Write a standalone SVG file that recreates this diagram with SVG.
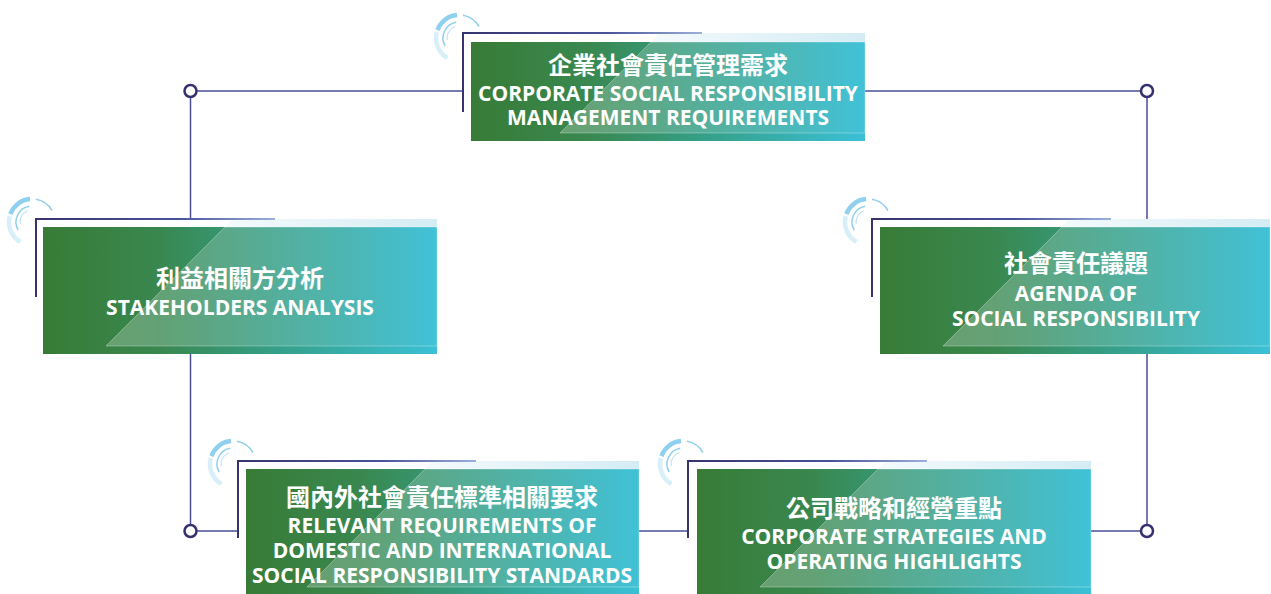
<svg xmlns="http://www.w3.org/2000/svg" xmlns:xlink="http://www.w3.org/1999/xlink" width="1271" height="594" viewBox="0 0 1271 594">
<defs>
<linearGradient id="boxg" x1="0" y1="0" x2="1" y2="0">
<stop offset="0" stop-color="#387b36"/>
<stop offset="0.3" stop-color="#398850"/>
<stop offset="0.6" stop-color="#35a08a"/>
<stop offset="1" stop-color="#3bc0d7"/>
</linearGradient>
<linearGradient id="ovg" x1="0" y1="0" x2="1" y2="0">
<stop offset="0" stop-color="#ffffff" stop-opacity="0.24"/>
<stop offset="0.6" stop-color="#ffffff" stop-opacity="0.14"/>
<stop offset="1" stop-color="#ffffff" stop-opacity="0.03"/>
</linearGradient>
<linearGradient id="stripg" x1="0" y1="0" x2="1" y2="0">
<stop offset="0" stop-color="#f4fafc"/>
<stop offset="1" stop-color="#d4ecf4"/>
</linearGradient>
<linearGradient id="frameg" x1="0" y1="0" x2="1" y2="0">
<stop offset="0" stop-color="#37336f"/>
<stop offset="0.6" stop-color="#4a5398"/>
<stop offset="1" stop-color="#9bb0dc"/>
</linearGradient>
<g id="deco" fill="none" stroke="#8fd0ee" stroke-linecap="butt">
<path d="M -21.61 -7.87 A 23 23 0 0 1 -2 -22.91" stroke-width="4.5"/>
<path d="M -11.5 19.92 A 23 23 0 0 1 -22.22 -5.95" stroke-width="4.5" stroke-opacity="0.35"/>
<path d="M 3.99 -22.65 A 23 23 0 0 1 19.92 -11.5" stroke-width="1.5"/>
<path d="M -13.86 8 A 16 16 0 0 1 -2.78 -15.76" stroke-width="1.5"/>
<path d="M -11.82 2.08 A 12 12 0 0 1 -4.1 -11.28" stroke-width="1" stroke-opacity="0.7"/>
</g>
</defs>
<style>
.box{fill:url(#boxg)}
.strip{fill:url(#stripg)}
.ov{fill:url(#ovg);stroke:#ffffff;stroke-opacity:0.3;stroke-width:1}
.frame{fill:none;stroke:url(#frameg);stroke-width:2}
.conn{fill:none;stroke:#4b4f98;stroke-width:1.5}
.dot{fill:#ffffff;stroke:#353070;stroke-width:2.5}
.cjk{font-family:"Noto Sans CJK TC","Noto Sans CJK SC",sans-serif;font-weight:bold;font-size:24px;fill:#ffffff;text-anchor:middle}
.en{font-family:"Open Sans","Liberation Sans",sans-serif;font-weight:bold;font-size:21px;fill:#ffffff;text-anchor:middle}
</style>

<g id="connectors">
<path class="conn" d="M 463 91 H 190.5 V 219"/>
<path class="conn" d="M 190.5 354 V 531 H 238"/>
<path class="conn" d="M 865 91 H 1147 V 219"/>
<path class="conn" d="M 1147 354 V 531 H 1091"/>
<path class="conn" d="M 639 531 H 688"/>
<circle class="dot" cx="190.5" cy="91" r="6"/>
<circle class="dot" cx="1147" cy="91" r="6"/>
<circle class="dot" cx="190.5" cy="531" r="6"/>
<circle class="dot" cx="1147" cy="531" r="6"/>
</g>

<g id="node-top">
<use xlink:href="#deco" href="#deco" x="459" y="38"/>
<polygon class="strip" points="660,33 865,33 865,42 651,42"/>
<path class="frame" d="M 463 112 V 33 H 702"/>
<rect class="box" x="471" y="42" width="394" height="99"/>
<polygon class="ov" points="651,42 865,42 865,133 560,133"/>
<text class="cjk" x="668" y="74">企業社會責任管理需求</text>
<text class="en" x="668" y="101">CORPORATE SOCIAL RESPONSIBILITY</text>
<text class="en" x="668" y="125">MANAGEMENT REQUIREMENTS</text>
</g>

<g id="node-left">
<use xlink:href="#deco" href="#deco" x="32" y="222"/>
<polygon class="strip" points="233,219 437,219 437,227 225,227"/>
<path class="frame" d="M 36 297 V 219 H 275"/>
<rect class="box" x="43" y="227" width="394" height="127"/>
<polygon class="ov" points="225,227 437,227 437,346 106,346"/>
<text class="cjk" x="240" y="287">利益相關方分析</text>
<text class="en" x="240" y="315">STAKEHOLDERS ANALYSIS</text>
</g>

<g id="node-right">
<use xlink:href="#deco" href="#deco" x="868" y="222"/>
<polygon class="strip" points="1070,219 1270,219 1270,227 1062,227"/>
<path class="frame" d="M 872 297 V 219 H 1111"/>
<rect class="box" x="880" y="227" width="390" height="127"/>
<polygon class="ov" points="1062,227 1270,227 1270,346 943,346"/>
<text class="cjk" x="1076" y="272">社會責任議題</text>
<text class="en" x="1076" y="301">AGENDA OF</text>
<text class="en" x="1076" y="326">SOCIAL RESPONSIBILITY</text>
</g>

<g id="node-bottom-left">
<use xlink:href="#deco" href="#deco" x="233" y="464"/>
<polygon class="strip" points="433,461 639,461 639,469 425,469"/>
<path class="frame" d="M 238 538 V 461 H 476"/>
<rect class="box" x="246" y="469" width="393" height="125"/>
<polygon class="ov" points="425,469 639,469 639,587 307,587"/>
<text class="cjk" x="442" y="506">國內外社會責任標準相關要求</text>
<text class="en" x="442" y="533">RELEVANT REQUIREMENTS OF</text>
<text class="en" x="442" y="558">DOMESTIC AND INTERNATIONAL</text>
<text class="en" x="442" y="583">SOCIAL RESPONSIBILITY STANDARDS</text>
</g>

<g id="node-bottom-right">
<use xlink:href="#deco" href="#deco" x="683" y="464"/>
<polygon class="strip" points="886,461 1091,461 1091,469 878,469"/>
<path class="frame" d="M 688 538 V 461 H 927"/>
<rect class="box" x="697" y="469" width="394" height="125"/>
<polygon class="ov" points="878,469 1091,469 1091,587 760,587"/>
<text class="cjk" x="894" y="517">公司戰略和經營重點</text>
<text class="en" x="894" y="544">CORPORATE STRATEGIES AND</text>
<text class="en" x="894" y="569">OPERATING HIGHLIGHTS</text>
</g>
</svg>
